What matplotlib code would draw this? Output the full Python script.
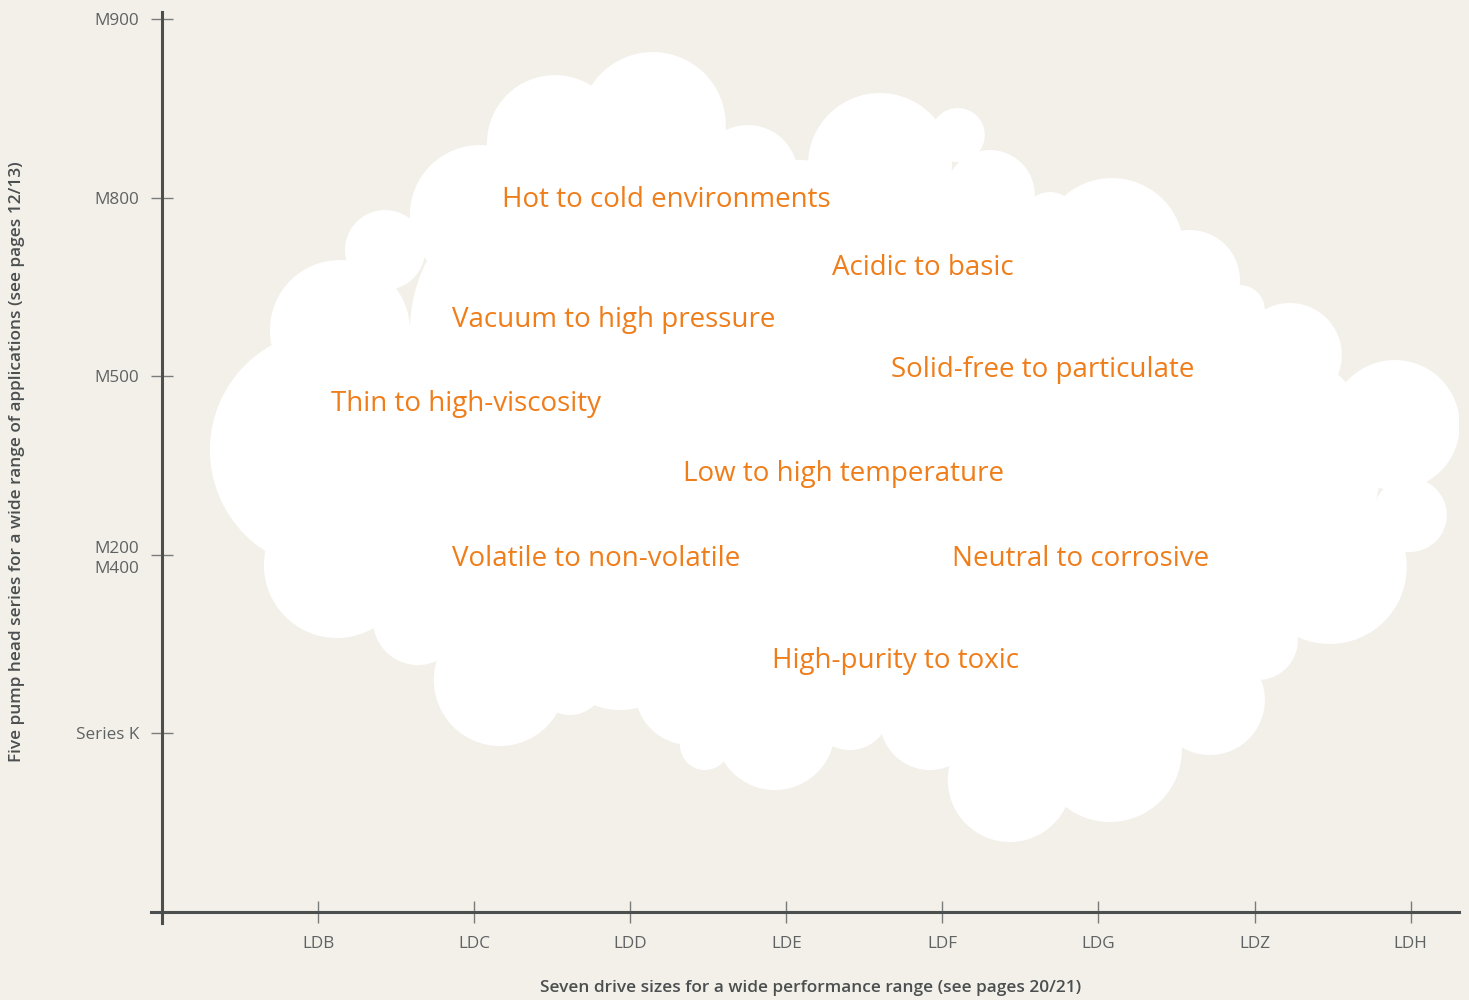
import matplotlib.pyplot as plt
import numpy as np

# --- Chart data ---
drive_sizes = ["LDB", "LDC", "LDD", "LDE", "LDF", "LDG", "LDZ", "LDH"]
drive_pos = [1, 2, 3, 4, 5, 6, 7, 8]
head_series = ["Series K", "M200\nM400", "M500", "M800", "M900"]
head_pos = [1, 2, 3, 4, 5]

app_labels = ["Hot to cold environments", "Acidic to basic", "Vacuum to high pressure",
              "Solid-free to particulate", "Thin to high-viscosity", "Low to high temperature",
              "Volatile to non-volatile", "Neutral to corrosive", "High-purity to toxic"]
app_x = [2.18, 4.29, 1.86, 4.67, 1.08, 3.34, 1.86, 5.06, 3.91]
app_y = [3.985, 3.605, 3.315, 3.035, 2.845, 2.455, 1.975, 1.975, 1.405]

# cloud made of overlapping circles: centre (data units), radius (pixels)
# first the bumpy outline, then the filler circles in the middle
cloud_x = [3.145, 2.518, 3.754, 4.600, 5.099, 5.304, 5.689, 6.086, 6.586, 6.906, 7.226,
           7.899, 7.995, 7.482, 7.021, 6.714, 6.073, 5.432, 4.920, 4.407, 3.927, 3.479,
           3.382, 2.614, 2.165, 1.640, 1.121, 1.076, 1.140, 1.429, 2.037,
           2.550, 4.087, 5.689, 6.970, 1.845, 3.447, 5.048, 6.201, 4.407, 5.496,
           2.550, 4.087, 3.318, 2.934, 5.112, 6.521]
cloud_y = [4.407, 4.306, 4.127, 4.183, 4.351, 4.015, 3.875, 3.707, 3.539, 3.371, 3.119,
           2.727, 2.223, 1.932, 1.523, 1.187, 0.907, 0.739, 1.075, 1.131, 1.019, 0.935,
           1.243, 1.299, 1.299, 1.635, 1.943, 2.587, 3.259, 3.707, 3.903,
           3.259, 3.259, 3.147, 2.475, 2.419, 2.195, 2.195, 1.859, 1.691, 1.187,
           1.747, 3.763, 3.819, 1.523, 3.651, 2.979]
cloud_r = [73, 68, 50, 72, 27, 45, 28, 72, 50, 25, 52,
           65, 37, 77, 40, 55, 72, 62, 50, 40, 60, 25,
           55, 35, 66, 45, 73, 120, 70, 40, 70,
           150, 150, 150, 130, 160, 180, 180, 150, 120, 90,
           100, 80, 90, 70, 80, 90]

BG = "#f3f0e9"
ORANGE = "#ef7d1a"
DARK = "#4b4f50"
GREY = "#5f6263"

plt.rcParams['font.family'] = ['Open Sans', 'DejaVu Sans']

fig = plt.figure(figsize=(14.69, 10), dpi=100, facecolor=BG)
ax = fig.add_axes([0.1028, 0.0773, 0.8904, 0.9107])
ax.set_facecolor(BG)
ax.set_xlim(-0.07, 8.31)
ax.set_ylim(-0.06, 5.04)

# cloud (radius px -> marker size in points^2)
sizes = [(2 * r * 72 / fig.dpi) ** 2 for r in cloud_r]
ax.scatter(cloud_x, cloud_y, s=sizes, c="white", edgecolors="none", zorder=1)

for lab, x, y in zip(app_labels, app_x, app_y):
    ax.text(x, y, lab, color=ORANGE, fontsize=20, ha="left", va="center", zorder=3)

# axes styling
for side in ["top", "right"]:
    ax.spines[side].set_visible(False)
ax.spines["left"].set_position(("data", 0))
ax.spines["bottom"].set_position(("data", 0))
for side in ["left", "bottom"]:
    ax.spines[side].set_color(DARK)
    ax.spines[side].set_linewidth(2.2)
    ax.spines[side].set_zorder(4)

ax.set_xticks(drive_pos, drive_sizes)
ax.set_yticks(head_pos, head_series)
ax.tick_params(axis="both", direction="inout", length=16, width=1.0, color="#7a7c7c",
               labelcolor=GREY, labelsize=12.3)
ax.tick_params(axis="x", pad=9)
ax.tick_params(axis="y", pad=8.5)
for t in ax.get_yticklabels():
    t.set_linespacing(1.35)

fig.text(17 / 1469, 1 - 462 / 1000,
         "Five pump head series for a wide range of applications (see pages 12/13)",
         rotation=90, ha="center", va="center", fontsize=12.4, fontweight="semibold", color=DARK)
fig.text(811 / 1469, 1 - 988 / 1000,
         "Seven drive sizes for a wide performance range (see pages 20/21)",
         ha="center", va="center", fontsize=12.4, fontweight="semibold", color=DARK)

fig.savefig("out.png", dpi=100, facecolor=BG)
